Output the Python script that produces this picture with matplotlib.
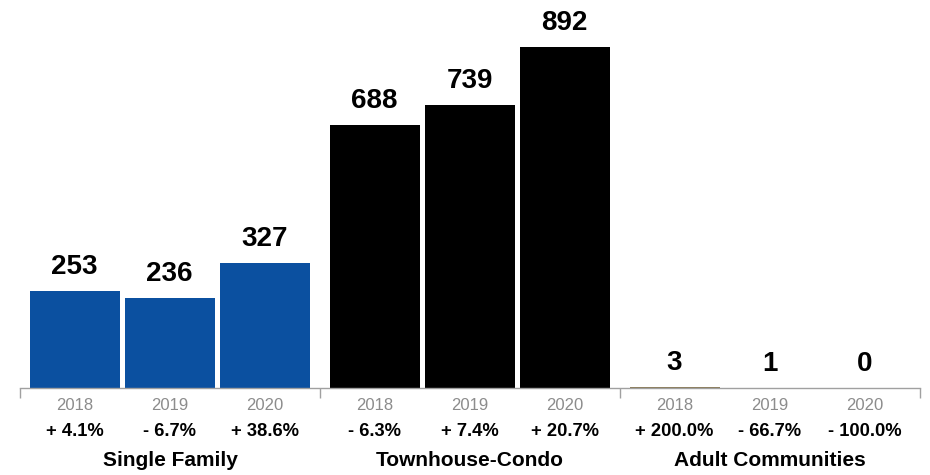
import matplotlib
matplotlib.use("Agg")
import matplotlib.pyplot as plt
from matplotlib.transforms import blended_transform_factory

groups = ["Single Family", "Townhouse-Condo", "Adult Communities"]
years = ["2018", "2019", "2020"]
values = [[253, 236, 327], [688, 739, 892], [3, 1, 0]]
changes = [["+ 4.1%", "- 6.7%", "+ 38.6%"],
           ["- 6.3%", "+ 7.4%", "+ 20.7%"],
           ["+ 200.0%", "- 66.7%", "- 100.0%"]]
colors = ["#0b50a0", "#000000", "#8a7a55"]

plt.rcParams['font.family'] = ['Liberation Sans', 'DejaVu Sans']

fig = plt.figure(figsize=(9.3, 4.75), dpi=100)
ax = fig.add_axes([20/930, 87/475, 900/930, 388/475])

group_w = 300
slot = 95
first = 54.5
bar_w = 90
ymax = 892 * 388 / 341
ax.set_xlim(0, 3 * group_w)
ax.set_ylim(0, ymax)

trans = blended_transform_factory(ax.transData, fig.transFigure)
for g, grp in enumerate(groups):
    for i, yr in enumerate(years):
        x = g * group_w + first + i * slot
        v = values[g][i]
        ax.bar(x, v, width=bar_w, color=colors[g], linewidth=0)
        ax.annotate(str(v), (x, v), xytext=(0, 8), textcoords="offset points",
                    ha="center", va="bottom", fontsize=20, fontweight="bold")
        fig.text(x, 1 - 405/475, yr, transform=trans, ha="center", va="center",
                 fontsize=12, color="#8c8c8c")
        fig.text(x, 1 - 431/475, changes[g][i], transform=trans, ha="center",
                 va="center", fontsize=13.2, fontweight="bold")
    fig.text(g * group_w + group_w / 2, 1 - 461/475, grp, transform=trans,
             ha="center", va="center", fontsize=15, fontweight="bold")

for s in ["top", "right", "left"]:
    ax.spines[s].set_visible(False)
ax.spines["bottom"].set_color("#a0a0a0")
ax.spines["bottom"].set_linewidth(1)
ax.set_yticks([])
ax.set_xticks([0, 300, 600, 900])
ax.set_xticklabels([])
ax.tick_params(axis="x", length=7, color="#a0a0a0", width=1)

fig.savefig("out.png", dpi=100)
